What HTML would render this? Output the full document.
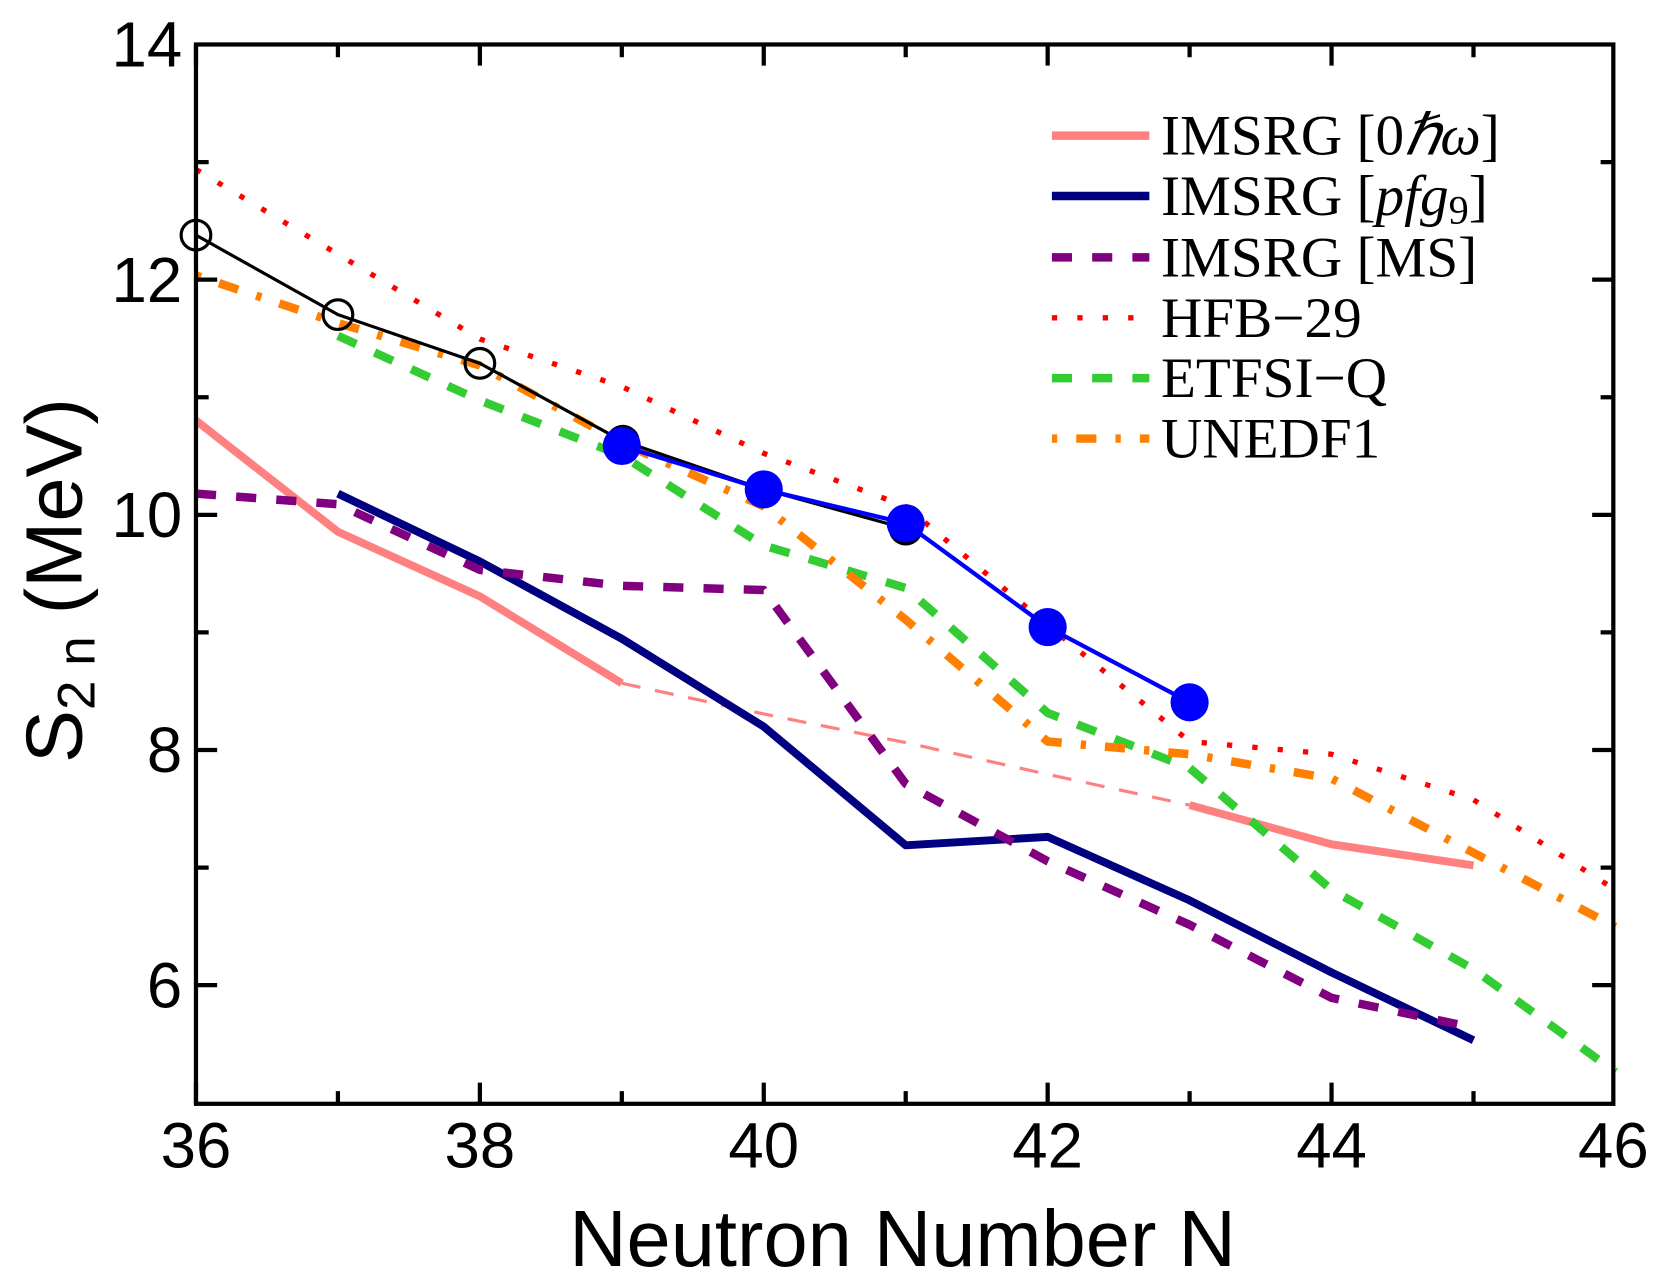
<!DOCTYPE html>
<html><head><meta charset="utf-8"><style>
html,body{margin:0;padding:0;background:#fff;}
svg{display:block;}
</style></head><body>
<svg width="1661" height="1286" viewBox="0 0 1568 1214" xmlns="http://www.w3.org/2000/svg">
<rect width="1568" height="1214" fill="#fff"/>
<g fill="none" stroke-linejoin="round">
<polyline stroke="#ff8080" stroke-width="7.5" points="185,397 319,502 453,563 587,645"/>
<polyline stroke="#ff8080" stroke-width="3" stroke-dasharray="18,14" points="587,645 721,674 855,701 989,731 1123,760"/>
<polyline stroke="#ff8080" stroke-width="7.5" points="1123,760 1257,797 1391,817"/>
<polyline stroke="#000080" stroke-width="7.5" points="319,466 453,530 587,603 721,686 855,798 989,790 1123,850 1257,918 1391,982"/>
<polyline stroke="#800080" stroke-width="8" stroke-dasharray="19,19" points="185,466 319,476 453,538 587,553 721,557 855,740 989,813 1123,873 1257,942 1391,970"/>
<polyline stroke="#ff0000" stroke-width="5" stroke-dasharray="5,19" points="185,160 319,240 453,320 587,365 721,428 855,478 989,590 1123,700 1257,712 1391,755 1525,840"/>
<polyline stroke="#33cc33" stroke-width="8" stroke-dasharray="19,19" points="319,317 453,378 587,430 721,515 855,555 989,673 1123,725 1257,840 1391,915 1525,1012"/>
<polyline stroke="#ff8000" stroke-width="8" stroke-dasharray="5,18,19,18" points="185,260 319,305 453,345 587,418 721,478 855,585 989,700 1123,712 1257,735 1391,805 1525,875"/>
<polyline stroke="#000" stroke-width="3" points="185,222 319,297 453,343 587,416 721,462 855,499"/>
<circle cx="185" cy="222" r="14" stroke="#000" stroke-width="3"/>
<circle cx="319" cy="297" r="14" stroke="#000" stroke-width="3"/>
<circle cx="453" cy="343" r="14" stroke="#000" stroke-width="3"/>
<circle cx="588" cy="417" r="16" fill="#000"/>
<circle cx="855" cy="499" r="16" fill="#000"/>
<polyline stroke="#0000ff" stroke-width="4" points="587,421 721,462 855,494 989,592 1123,663"/>
<g fill="#0000ff" stroke="none">
<circle cx="587" cy="421" r="18"/><circle cx="721" cy="462" r="18"/><circle cx="855" cy="494" r="18"/><circle cx="989" cy="592" r="18"/><circle cx="1123" cy="663" r="18"/>
</g>
</g>
<rect x="185" y="42" width="1338" height="1000" fill="none" stroke="#000" stroke-width="4"/>
<g stroke="#000" stroke-width="4">
<path d="M185,1042v-20M453,1042v-20M721,1042v-20M989,1042v-20M1257,1042v-20M185,42v20M453,42v20M721,42v20M989,42v20M1257,42v20"/>
<path d="M319,1042v-12M587,1042v-12M855,1042v-12M1123,1042v-12M1391,1042v-12M319,42v12M587,42v12M855,42v12M1123,42v12M1391,42v12"/>
<path d="M185,264h20M185,486h20M185,708h20M185,930h20M1523,264h-20M1523,486h-20M1523,708h-20M1523,930h-20"/>
<path d="M185,153h12M185,375h12M185,597h12M185,819h12M1523,153h-12M1523,375h-12M1523,597h-12M1523,819h-12"/>
</g>
<g font-family="Liberation Sans, sans-serif" font-size="60" fill="#000">
<g text-anchor="end">
<text x="172" y="63">14</text>
<text x="172" y="285">12</text>
<text x="172" y="507">10</text>
<text x="172" y="729">8</text>
<text x="172" y="951">6</text>
</g>
<g text-anchor="middle">
<text x="185" y="1102">36</text>
<text x="453" y="1102">38</text>
<text x="721" y="1102">40</text>
<text x="989" y="1102">42</text>
<text x="1257" y="1102">44</text>
<text x="1523" y="1102">46</text>
</g>
<text x="852" y="1195" font-size="75" text-anchor="middle">Neutron Number N</text>
<text transform="translate(77,548) rotate(-90)" font-size="75" text-anchor="middle">S<tspan font-size="50" dy="12">2 n</tspan><tspan dy="-12"> (MeV)</tspan></text>
</g>
<g fill="none">
<line x1="993" y1="128" x2="1085" y2="128" stroke="#ff8080" stroke-width="8"/>
<line x1="993" y1="185" x2="1085" y2="185" stroke="#000080" stroke-width="8"/>
<line x1="993" y1="243" x2="1085" y2="243" stroke="#800080" stroke-width="8" stroke-dasharray="19,19"/>
<line x1="993" y1="300" x2="1085" y2="300" stroke="#ff0000" stroke-width="5" stroke-dasharray="5,19"/>
<line x1="993" y1="357" x2="1085" y2="357" stroke="#33cc33" stroke-width="8" stroke-dasharray="19,19"/>
<line x1="993" y1="414" x2="1085" y2="414" stroke="#ff8000" stroke-width="8" stroke-dasharray="5,18,19,18"/>
</g>
<g font-family="Liberation Serif, serif" font-size="54" fill="#000">
<text x="1096" y="146">IMSRG [0<tspan font-style="italic">ℏω</tspan>]</text>
<text x="1096" y="203">IMSRG [<tspan font-style="italic">pfg</tspan><tspan font-size="38" dy="8">9</tspan><tspan dy="-8">]</tspan></text>
<text x="1096" y="261">IMSRG [MS]</text>
<text x="1096" y="318">HFB−29</text>
<text x="1096" y="375">ETFSI−Q</text>
<text x="1096" y="432">UNEDF1</text>
</g>
</svg>
</body></html>
